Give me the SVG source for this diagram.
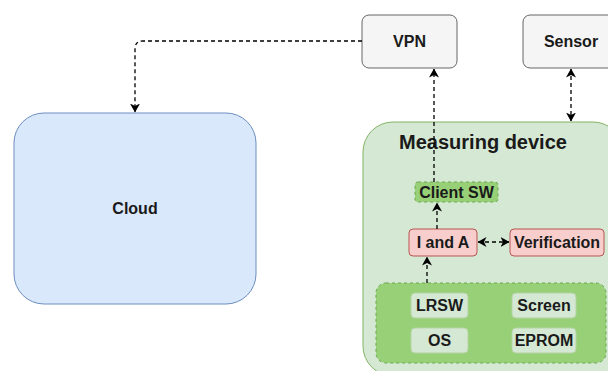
<svg xmlns="http://www.w3.org/2000/svg" width="608" height="371" viewBox="0 0 608 371">
  <style>
    text { font-family: "Liberation Sans", Arial, sans-serif; font-weight: bold; font-size: 16px; fill: #1a1a1a; text-anchor: middle; dominant-baseline: central; }
    .grey { fill: #f5f5f5; stroke: #666666; stroke-width: 1; }
    .blue { fill: #dae8fc; stroke: #6c8ebf; stroke-width: 1; }
    .green { fill: #d5e8d4; stroke: #82b366; stroke-width: 1; }
    .dgreen { fill: #97d077; stroke: #6aa84f; stroke-width: 1; stroke-dasharray: 3 3; }
    .red { fill: #f8cecc; stroke: #b85450; stroke-width: 1; }
    .chip { fill: #d5e8d4; stroke: #b5d3a6; stroke-width: 1; }
    .link { fill: none; stroke: #000000; stroke-width: 1.3; stroke-dasharray: 4 3; }
  </style>
  <defs>
    <marker id="arrow" viewBox="0 0 9 10" refX="8.5" refY="5" markerWidth="9" markerHeight="10" markerUnits="userSpaceOnUse" orient="auto-start-reverse">
      <path d="M0,0 L9,5 L0,10 L2.5,5 z" fill="#000000"/>
    </marker>
  </defs>

  <g id="cloud">
    <rect class="blue" x="14" y="113" width="242" height="191" rx="30"/>
    <text x="135" y="208">Cloud</text>
  </g>

  <g id="vpn">
    <rect class="grey" x="362" y="15" width="95" height="53" rx="7"/>
    <text x="409.5" y="41">VPN</text>
  </g>

  <g id="sensor">
    <rect class="grey" x="523" y="15" width="96" height="53" rx="7"/>
    <text x="571" y="41">Sensor</text>
  </g>

  <g id="measuring-device">
    <rect class="green" x="363" y="122" width="260" height="254" rx="30"/>
    <text x="483" y="142" style="font-size:20px">Measuring device</text>
  </g>

  <g id="client-sw">
    <rect class="dgreen" x="415" y="182" width="83" height="20" rx="3"/>
    <text x="456.5" y="192">Client SW</text>
  </g>

  <g id="i-and-a">
    <rect class="red" x="409" y="229" width="68" height="27" rx="4"/>
    <text x="443" y="242.5">I and A</text>
  </g>

  <g id="verification">
    <rect class="red" x="510" y="229" width="94" height="27" rx="4"/>
    <text x="557" y="242.5">Verification</text>
  </g>

  <g id="platform">
    <rect class="dgreen" x="376" y="283" width="230" height="80" rx="10"/>
  </g>

  <g id="lrsw">
    <rect class="chip" x="411" y="293" width="57" height="25" rx="4"/>
    <text x="439.5" y="305.5">LRSW</text>
  </g>

  <g id="screen">
    <rect class="chip" x="512" y="293" width="64" height="25" rx="4"/>
    <text x="544" y="305.5">Screen</text>
  </g>

  <g id="os">
    <rect class="chip" x="411" y="328" width="57" height="25" rx="4"/>
    <text x="439.5" y="340.5">OS</text>
  </g>

  <g id="eprom">
    <rect class="chip" x="512" y="328" width="64" height="25" rx="4"/>
    <text x="544" y="340.5">EPROM</text>
  </g>

  <g id="connectors">
    <path class="link" d="M362,41 H143 Q135,41 135,49 V112" marker-end="url(#arrow)"/>
    <path class="link" d="M434,182 V69" marker-end="url(#arrow)"/>
    <path class="link" d="M571,69 V121" marker-start="url(#arrow)" marker-end="url(#arrow)"/>
    <path class="link" d="M437,229 V203" marker-end="url(#arrow)"/>
    <path class="link" d="M478,242 H509" marker-start="url(#arrow)" marker-end="url(#arrow)"/>
    <path class="link" d="M427,283 V257" marker-end="url(#arrow)"/>
  </g>
</svg>
